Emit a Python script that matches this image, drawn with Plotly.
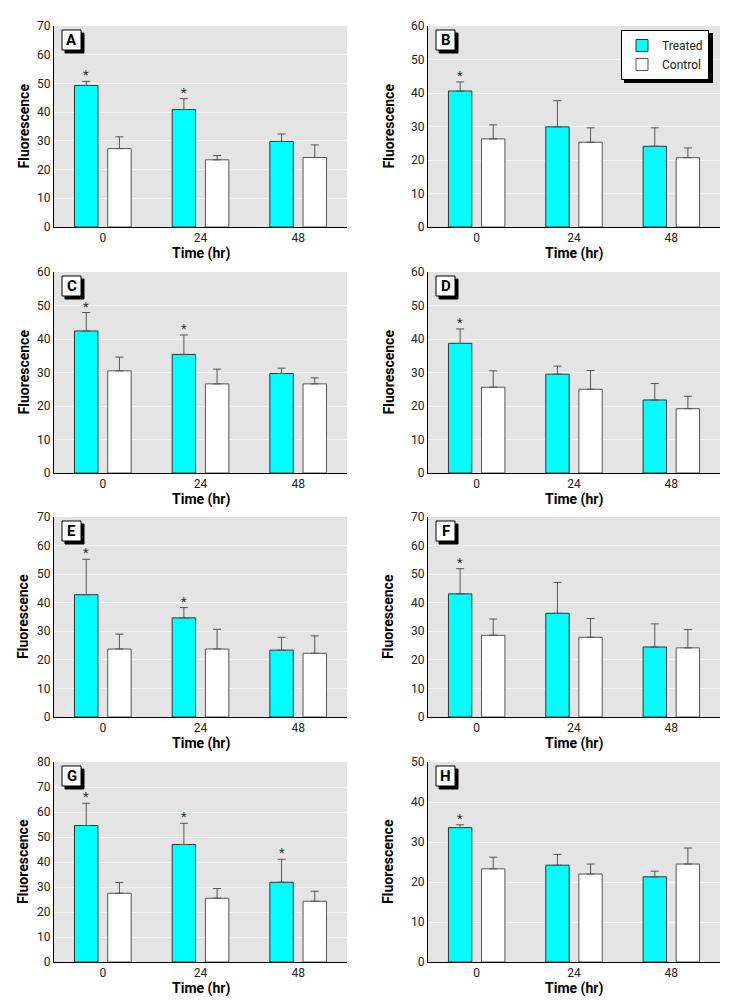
import plotly.graph_objects as go

# ---------------- data ----------------
times = ["0", "24", "48"]
panels = ["A", "B", "C", "D", "E", "F", "G", "H"]
y_max = [70, 60, 60, 60, 70, 70, 80, 50]

treated_A = [49.3, 40.9, 29.8]
treated_err_A = [1.4, 3.8, 2.6]
control_A = [27.3, 23.4, 24.2]
control_err_A = [4.1, 1.5, 4.4]
sig_A = [True, True, False]

treated_B = [40.6, 29.9, 24.1]
treated_err_B = [2.7, 7.8, 5.5]
control_B = [26.3, 25.3, 20.7]
control_err_B = [4.2, 4.3, 2.9]
sig_B = [True, False, False]

treated_C = [42.4, 35.4, 29.7]
treated_err_C = [5.5, 5.8, 1.6]
control_C = [30.5, 26.6, 26.6]
control_err_C = [4.1, 4.4, 1.8]
sig_C = [True, True, False]

treated_D = [38.7, 29.5, 21.8]
treated_err_D = [4.3, 2.4, 4.9]
control_D = [25.6, 25.0, 19.2]
control_err_D = [4.9, 5.6, 3.7]
sig_D = [True, False, False]

treated_E = [42.8, 34.7, 23.4]
treated_err_E = [12.4, 3.6, 4.5]
control_E = [23.8, 23.8, 22.3]
control_err_E = [5.2, 6.9, 6.1]
sig_E = [True, True, False]

treated_F = [43.1, 36.3, 24.5]
treated_err_F = [8.8, 10.8, 8.1]
control_F = [28.6, 27.9, 24.2]
control_err_F = [5.7, 6.6, 6.4]
sig_F = [True, False, False]

treated_G = [54.6, 47.0, 31.9]
treated_err_G = [8.9, 8.5, 9.2]
control_G = [27.5, 25.5, 24.3]
control_err_G = [4.3, 3.9, 4.0]
sig_G = [True, True, True]

treated_H = [33.6, 24.2, 21.3]
treated_err_H = [0.7, 2.7, 1.4]
control_H = [23.3, 22.0, 24.5]
control_err_H = [2.9, 2.5, 4.0]
sig_H = [True, False, False]

treated = [treated_A, treated_B, treated_C, treated_D, treated_E, treated_F, treated_G, treated_H]
treated_err = [treated_err_A, treated_err_B, treated_err_C, treated_err_D,
               treated_err_E, treated_err_F, treated_err_G, treated_err_H]
control = [control_A, control_B, control_C, control_D, control_E, control_F, control_G, control_H]
control_err = [control_err_A, control_err_B, control_err_C, control_err_D,
               control_err_E, control_err_F, control_err_G, control_err_H]
sig = [sig_A, sig_B, sig_C, sig_D, sig_E, sig_F, sig_G, sig_H]

# ---------------- layout geometry ----------------
W, H = 729, 1004
col_x = [(54, 347), (428, 720)]
row_y = [(26, 227), (272, 473), (517, 717), (762, 962)]
ytitle_shift = [-31, -40]

FONT = "Roboto, Liberation Sans, sans-serif"
CYAN = "#00FFFF"
BAR_W = 0.24
T_OFF = -0.29
C_OFF = 0.05

fig = go.Figure()
layout = {}
annotations = []
shapes = []

for i, p in enumerate(panels):
    k = i + 1
    sfx = "" if k == 1 else str(k)
    xa, ya = "x" + sfx, "y" + sfx
    r, c = divmod(i, 2)
    x0, x1 = col_x[c]
    yt, yb = row_y[r]

    fig.add_trace(go.Bar(
        x=times, y=treated[i], name="Treated", xaxis=xa, yaxis=ya,
        width=BAR_W, offset=T_OFF,
        marker=dict(color=CYAN, line=dict(color="#333333", width=1)),
        error_y=dict(type="data", symmetric=False, array=treated_err[i],
                     arrayminus=[0] * 3, color="#555555", thickness=1, width=4),
        showlegend=(p == "B"), legendgroup="t"))
    fig.add_trace(go.Bar(
        x=times, y=control[i], name="Control", xaxis=xa, yaxis=ya,
        width=BAR_W, offset=C_OFF,
        marker=dict(color="white", line=dict(color="#555555", width=1)),
        error_y=dict(type="data", symmetric=False, array=control_err[i],
                     arrayminus=[0] * 3, color="#555555", thickness=1, width=4),
        showlegend=(p == "B"), legendgroup="c"))

    layout["xaxis" + sfx] = dict(
        domain=[x0 / W, x1 / W], anchor=ya, type="category", automargin=False,
        categoryorder="array", categoryarray=times, range=[-0.5, 2.5],
        showline=True, linecolor="black", linewidth=1, ticks="",
        showgrid=False, zeroline=False,
        tickfont=dict(family=FONT, size=12, color="#222222"))
    layout["yaxis" + sfx] = dict(
        domain=[1 - yb / H, 1 - yt / H], anchor=xa, range=[0, y_max[i]],
        automargin=False,
        dtick=10, showline=True, linecolor="black", linewidth=1, ticks="",
        showgrid=True, gridcolor="#F4F4F4", gridwidth=1, zeroline=False,
        tickfont=dict(family=FONT, size=12, color="#222222"))

    # axis titles
    annotations.append(dict(
        text="<b>Fluorescence</b>", xref=xa + " domain", yref=ya + " domain",
        x=0, y=0.5, xshift=ytitle_shift[c], xanchor="center", yanchor="middle",
        textangle=-90, showarrow=False,
        font=dict(family=FONT, size=14, color="black")))
    annotations.append(dict(
        text="<b>Time (hr)</b>", xref=xa + " domain", yref=ya + " domain",
        x=0.5, y=0, yshift=-26, xanchor="center", yanchor="middle",
        showarrow=False, font=dict(family=FONT, size=14, color="black")))

    # panel letter box with drop shadow (shapes sized in pixels)
    shapes.append(dict(
        type="rect", xref=xa + " domain", yref=ya + " domain", layer="above",
        xsizemode="pixel", ysizemode="pixel", xanchor=0, yanchor=1,
        x0=11, x1=11 + 19, y0=-7, y1=-7 - 20,
        fillcolor="black", line=dict(color="black", width=1)))
    shapes.append(dict(
        type="rect", xref=xa + " domain", yref=ya + " domain", layer="above",
        xsizemode="pixel", ysizemode="pixel", xanchor=0, yanchor=1,
        x0=8, x1=8 + 19, y0=-4, y1=-4 - 20,
        fillcolor="white", line=dict(color="black", width=1)))
    annotations.append(dict(
        text="<b>%s</b>" % p, xref=xa + " domain", yref=ya + " domain",
        x=0, y=1, xshift=8 + 9.5, yshift=-4 - 10, xanchor="center", yanchor="middle",
        showarrow=False, font=dict(family=FONT, size=15, color="black")))

    # significance asterisks
    for j, s in enumerate(sig[i]):
        if s:
            annotations.append(dict(
                text="*", xref=xa, yref=ya,
                x=j + T_OFF + BAR_W / 2, y=treated[i][j] + treated_err[i][j],
                yanchor="bottom", xanchor="center", yshift=-3, showarrow=False,
                font=dict(family=FONT, size=13, color="#333333")))

# legend drop shadow (legend box is ~89 x 50 px, drawn on top of this)
shapes.append(dict(type="rect", xref="paper", yref="paper", layer="above",
                   x0=624 / W, x1=713 / W, y0=1 - 83 / H, y1=1 - 33 / H,
                   fillcolor="black", line=dict(width=0)))

fig.update_layout(
    width=W, height=H, margin=dict(l=0, r=0, t=0, b=0),
    paper_bgcolor="white", plot_bgcolor="#E4E4E4",
    barmode="group", annotations=annotations, shapes=shapes,
    legend=dict(x=621 / W, y=1 - 30 / H, xanchor="left", yanchor="top",
                bgcolor="white", bordercolor="black", borderwidth=1,
                font=dict(family=FONT, size=12, color="#222222"),
                tracegroupgap=0, traceorder="normal", itemwidth=30),
    font=dict(family=FONT),
    **layout)

fig.write_html("out.html")
